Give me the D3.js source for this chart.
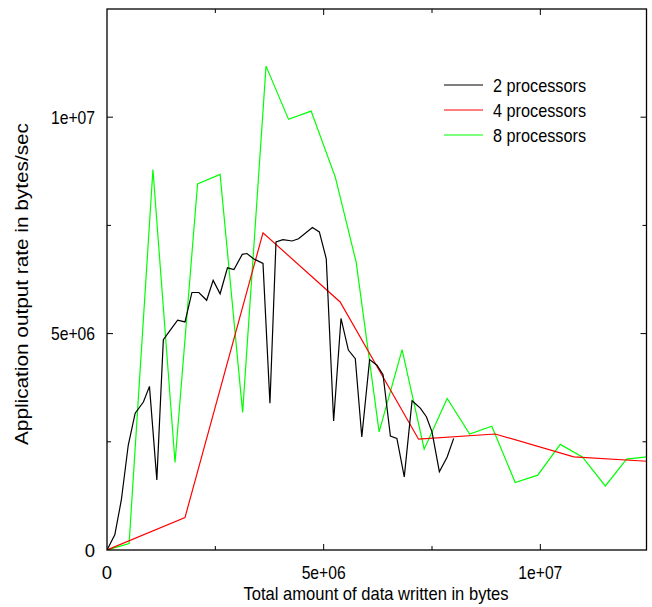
<!DOCTYPE html>
<html><head><meta charset="utf-8">
<script src="https://cdn.jsdelivr.net/npm/d3@7"></script>
<style>
html,body{margin:0;padding:0;background:#fff;}
text{font-family:"Liberation Sans",Arial,sans-serif;fill:#000;}
</style></head>
<body><svg id="c" width="652" height="607"></svg>
<script>
// Data (x in bytes, y in bytes/sec), values in millions
const seriesNames = ["2 processors", "4 processors", "8 processors"];
const seriesColors = ["#000000", "#ff0000", "#00ff00"];
const x2 = [0,0.18,0.33,0.49,0.65,0.84,0.98,1.15,1.30,1.49,1.63,1.80,1.96,2.12,2.30,2.45,2.61,2.78,2.93,3.12,3.23,3.38,3.60,3.76,3.90,4.06,4.27,4.42,4.74,4.90,5.06,5.23,5.40,5.57,5.73,5.88,6.06,6.23,6.37,6.54,6.69,6.86,7.04,7.23,7.37,7.50,7.67,7.85,8.00];
const y2 = [0,0.35,1.15,2.42,3.16,3.42,3.78,1.62,4.86,5.12,5.31,5.27,5.95,5.95,5.77,6.23,5.92,6.52,6.48,6.83,6.85,6.73,6.62,3.39,7.12,7.17,7.14,7.19,7.45,7.35,6.73,2.98,5.35,4.62,4.42,2.61,4.40,4.27,4.05,2.63,2.58,1.69,3.45,3.28,3.08,2.73,1.81,2.15,2.58];
const x4 = [0,1.80,3.60,5.38,7.19,8.96,10.77,12.46];
const y4 = [0,0.75,7.33,5.73,2.56,2.68,2.15,2.05];
const x8 = [0,0.51,1.06,1.57,2.09,2.61,3.13,3.67,4.19,4.71,5.27,5.75,6.28,6.81,7.32,7.85,8.37,8.88,9.42,9.94,10.46,10.97,11.50,11.99,12.46];
const y8 = [0,0.15,8.79,2.02,8.46,8.68,3.18,11.18,9.95,10.14,8.61,6.65,2.73,4.63,2.33,3.50,2.68,2.86,1.56,1.73,2.44,2.15,1.48,2.10,2.15];
const xTicks = [0, 5e6, 1e7];
const xTickLabels = ["0", "5e+06", "1e+07"];
const yTicks = [0, 5e6, 1e7];
const yTickLabels = ["0", "5e+06", "1e+07"];
const minorTicks = [2.5e6, 7.5e6];
const xTitle = "Total amount of data written in bytes";
const yTitle = "Application output rate in bytes/sec";

const M = 1e6;
const series = [
  {name: seriesNames[0], color: seriesColors[0], pts: x2.map((v,i)=>[v*M, y2[i]*M])},
  {name: seriesNames[1], color: seriesColors[1], pts: x4.map((v,i)=>[v*M, y4[i]*M])},
  {name: seriesNames[2], color: seriesColors[2], pts: x8.map((v,i)=>[v*M, y8[i]*M])}
];

const L = 107, R = 646.5, T = 9, B = 550;
const FS = 18.5;
const x = d3.scaleLinear().domain([0, 12.45e6]).range([L, R]);
const y = d3.scaleLinear().domain([0, 12.5e6]).range([B, T]);
const svg = d3.select("#c");

svg.append("clipPath").attr("id","clip").append("rect")
  .attr("x", L).attr("y", T).attr("width", R-L).attr("height", B-T);

const line = d3.line().x(d=>x(d[0])).y(d=>y(d[1]));
const g = svg.append("g").attr("clip-path","url(#clip)");
[2,1,0].forEach(i=>{
  g.append("path").attr("d", line(series[i].pts)).attr("fill","none")
   .attr("stroke", series[i].color).attr("stroke-width",1.2).attr("stroke-linejoin","miter");
});

// ticks (inward, mirrored)
const tk = svg.append("g").attr("stroke","#000").attr("stroke-width",1);
xTicks.forEach(v=>{ if(v>0){
  tk.append("line").attr("x1",x(v)).attr("x2",x(v)).attr("y1",B).attr("y2",B-6);
  tk.append("line").attr("x1",x(v)).attr("x2",x(v)).attr("y1",T).attr("y2",T+6);}});
minorTicks.forEach(v=>{
  tk.append("line").attr("x1",x(v)).attr("x2",x(v)).attr("y1",B).attr("y2",B-4);
  tk.append("line").attr("x1",x(v)).attr("x2",x(v)).attr("y1",T).attr("y2",T+4);
  tk.append("line").attr("y1",y(v)).attr("y2",y(v)).attr("x1",L).attr("x2",L+4);
  tk.append("line").attr("y1",y(v)).attr("y2",y(v)).attr("x1",R).attr("x2",R-4);
});
yTicks.forEach(v=>{ if(v>0){
  tk.append("line").attr("y1",y(v)).attr("y2",y(v)).attr("x1",L).attr("x2",L+6);
  tk.append("line").attr("y1",y(v)).attr("y2",y(v)).attr("x1",R).attr("x2",R-6);}});

// frame
svg.append("rect").attr("x",L).attr("y",T).attr("width",R-L).attr("height",B-T)
  .attr("fill","none").attr("stroke","#000").attr("stroke-width",1.3);

function condensed(sel, len){
  if(len) sel.attr("textLength",len).attr("lengthAdjust","spacingAndGlyphs");
  return sel;
}
// tick labels
xTicks.forEach((v,i)=>{
  condensed(svg.append("text").attr("x",x(v)).attr("y",579).attr("text-anchor","middle")
    .attr("font-size",FS).text(xTickLabels[i]), i>0 ? 44 : 0);
});
yTicks.forEach((v,i)=>{
  condensed(svg.append("text").attr("x",95).attr("y",y(v)+6.5).attr("text-anchor","end")
    .attr("font-size",FS).text(yTickLabels[i]), i>0 ? 44 : 0);
});

// axis titles
condensed(svg.append("text").attr("x",376).attr("y",600).attr("text-anchor","middle")
  .attr("font-size",FS).text(xTitle), 265);
condensed(svg.append("text").attr("transform","translate(28,284) rotate(-90)").attr("text-anchor","middle")
  .attr("font-size",FS).text(yTitle), 322);

// legend
series.forEach((s,i)=>{
  const ly = 85 + i*25;
  svg.append("line").attr("x1",444).attr("x2",483).attr("y1",ly).attr("y2",ly)
    .attr("stroke",s.color).attr("stroke-width",1.2);
  condensed(svg.append("text").attr("x",493).attr("y",ly+6.5).attr("font-size",FS).text(s.name), 93);
});
</script></body></html>
